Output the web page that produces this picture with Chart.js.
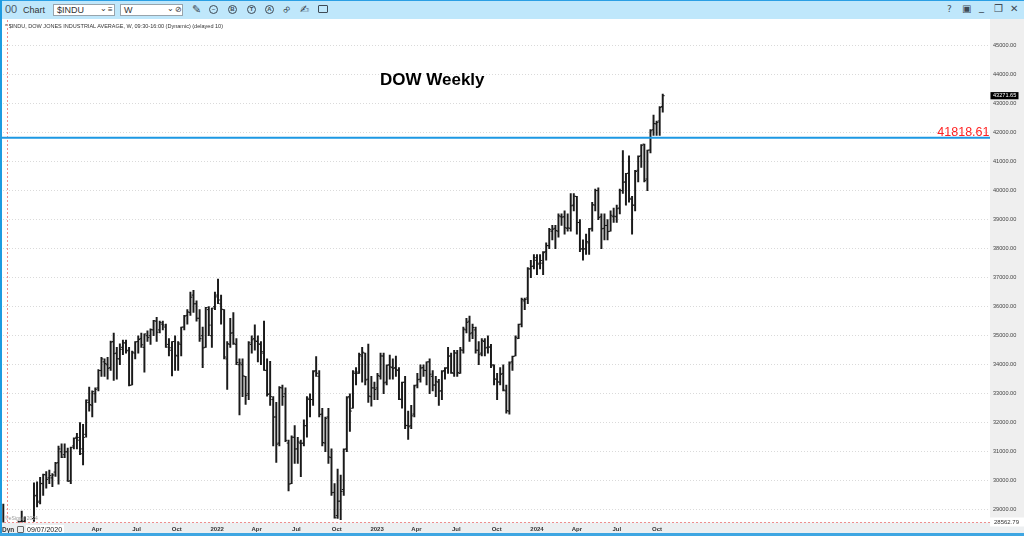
<!DOCTYPE html>
<html>
<head>
<meta charset="utf-8">
<script src="https://cdn.jsdelivr.net/npm/chart.js@4.4.1/dist/chart.umd.min.js"></script>
<style>
  body { margin: 0; width: 1024px; height: 536px; overflow: hidden; background: #fff;
         font-family: "Liberation Sans", Arial, sans-serif; position: relative; }
  #dowChart { position: absolute; left: 0; top: 0; }
  .abs { position: absolute; white-space: nowrap; }
  #hdr { left: 0; top: 0; width: 1024px; height: 19px; background: #bfe7fb; border-top: 1px solid #2a9fe4; box-sizing: border-box; }
  .box { top: 3px; height: 12px; background: #fff; border: 1px solid #98a4ac; box-sizing: border-box; font-size: 9px; color: #333; line-height: 10px; }
  .circ { top: 4px; width: 9px; height: 9px; border: 1px solid #3e4a56; border-radius: 50%; box-sizing: border-box;
          font-size: 6px; line-height: 7px; text-align: center; color: #3e4a56; font-weight: bold; }
  .glyph { top: 2px; font-size: 11px; color: #3e4a56; font-family: "DejaVu Sans", sans-serif; }
  #leftBorder { left: 0; top: 0; width: 2px; height: 536px; background: #1e9be0; }
  #bottomBorder { left: 0; top: 533px; width: 1024px; height: 3px; background: #3ea6e2; }
</style>
</head>
<body>
<canvas id="dowChart" width="1024" height="536"></canvas>

<div id="hdr" class="abs">
  <span class="abs" style="left:5px;top:2px;font-size:11px;color:#4b5b6a">00</span>
  <span class="abs" style="left:23px;top:4px;font-size:9px;color:#333">Chart</span>
  <div class="abs box" style="left:53px;width:62px"><span class="abs" style="left:3px;top:0">$INDU</span><span class="abs" style="left:46px;top:-1px;font-size:8px">&#8964;</span><span class="abs" style="left:54px;top:0;font-size:8px">&#8801;</span></div>
  <div class="abs box" style="left:120px;width:63px"><span class="abs" style="left:3px;top:0">W</span><span class="abs" style="left:46px;top:-1px;font-size:8px">&#8964;</span><span class="abs" style="left:54px;top:0;font-size:8px">&#8856;</span></div>
  <span class="abs glyph" style="left:192px">&#9998;</span>
  <div class="abs circ" style="left:209px">~</div>
  <div class="abs circ" style="left:228px">B</div>
  <div class="abs circ" style="left:247px">T</div>
  <div class="abs circ" style="left:265px">A</div>
  <span class="abs glyph" style="left:282px;transform:rotate(-45deg)">&#8734;</span>
  <span class="abs glyph" style="left:300px">&#9997;</span>
  <div class="abs" style="left:318px;top:4px;width:10px;height:8px;border:1px solid #3e4a56;border-radius:1px;box-sizing:border-box"></div>
  <span class="abs glyph" style="left:947px;top:3px;font-size:9px">?</span>
  <span class="abs glyph" style="left:962px;top:2px;font-size:10px">&#9635;</span>
  <span class="abs glyph" style="left:979px;top:0px;font-size:10px">_</span>
  <span class="abs glyph" style="left:994px;top:2px;font-size:10px">&#10064;</span>
  <span class="abs glyph" style="left:1010px;top:2px;font-size:10px">&#10005;</span>
</div>

<div id="sub" class="abs" style="left:5px;top:23px;font-size:6px;color:#333;transform-origin:left top">* $INDU, DOW JONES INDUSTRIAL AVERAGE, W, 09:30-16:00 (Dynamic) (delayed 10)</div>
<div id="title" class="abs" style="left:380px;top:71px;font-size:17px;line-height:17px;font-weight:bold;color:#000">DOW Weekly</div>
<div class="abs" style="left:5px;top:515px;font-size:5px;color:#999">&copy;eSignal 2024</div>
<div class="abs" style="left:2px;top:526px;font-size:6.5px;font-weight:bold;color:#333">Dyn</div>
<div class="abs" style="left:17px;top:526px;width:7px;height:7px;border:1px solid #666;border-radius:1px;box-sizing:border-box"></div>
<div class="abs" style="left:26px;top:525px;width:37px;height:9px;background:#fff;font-size:7px;line-height:9px;color:#222;padding-left:1px">09/07/2020</div>

<div id="leftBorder" class="abs"></div>
<div id="bottomBorder" class="abs"></div>

<script>
// weekly bars, first one is the week of 2020-08-31
const startWeek = "2020-08-31";

const opens = [
  28430,28100,27700,27600,27200,27700,28600,28600,28300,26600,28700,29500,29300,29900,30200,30100,30100,30300,
  30627,31000,30900,31000,30000,31200,31500,31400,31100,31600,32700,32600,33000,33200,33800,34100,34000,33900,34800,34400,34200,34600,34750,34500,33300,34400,34800,34900,34600,35000,35000,35200,35500,35200,35400,35300,34700,34500,34800,34300,34700,35300,35700,35800,36400,36100,35600,35000,34600,35900,35000,36000,
  36400,36100,35900,34200,34700,35100,34700,34000,34000,33600,33000,34700,34900,34800,34700,34400,33800,33000,32800,32200,31300,33200,33000,31300,29900,31500,31100,31300,31300,31900,32800,32800,33800,33600,32300,31300,32200,30800,29600,28800,29300,29700,31100,32900,32500,33700,33700,34300,34400,33500,32900,33200,
  33200,33600,34300,33400,34000,33900,33900,33800,32800,33400,31900,31900,32300,33300,33500,33900,33800,34100,33600,33300,33400,33100,33800,33900,34300,33700,34400,33700,34500,35200,35500,35100,35200,34500,34400,34800,34600,34600,34000,33500,33400,33700,33100,32400,34100,34300,34900,35400,36200,36300,37300,37400,
  37600,37500,37500,37900,38100,38600,38700,38600,39100,39100,38700,38700,39500,39800,38900,38000,38000,38200,38700,39500,40000,39100,38700,38800,38600,39100,39100,39400,40000,40300,40600,39700,39500,40700,41200,41600,40400,41400,42100,42300,42400,42900
];
const highs = [
  29199,28367,28195,27640,27917,28608,28958,28760,28300,28459,29933,29964,30116,30232,30320,30369,30250,30637,
  31193,31272,31272,31128,31160,31480,31637,32010,31950,32793,33227,33100,33200,33830,34256,34200,34256,34811,35091,34600,34720,34850,34850,34600,34470,34800,35000,35091,35061,35171,35238,35530,35631,35500,35500,35400,34900,34800,35000,34800,35300,35700,35900,36500,36565,36200,35900,35300,35980,36000,35950,36500,
  36952,36400,35900,34800,35600,35800,34900,34200,34200,33600,34800,35000,35372,35000,34800,35500,34200,34117,32900,32700,33250,33300,33200,31400,31550,31900,31500,31400,32100,32900,33000,33800,34281,33800,32500,32200,32500,31100,29900,30400,30200,31100,32900,33000,33800,33900,34400,34600,34400,34712,33600,33400,
  33700,34400,34400,34000,34335,34200,34300,33900,33400,33600,32400,32600,33300,33700,34000,34000,34100,34200,33800,33600,33500,33800,33900,34600,34400,34500,34500,34600,35300,35600,35679,35400,35300,34800,34900,34900,35000,34700,34000,33700,33900,34000,33300,34100,34300,35000,35400,36300,36300,37350,37600,37800,
  37800,37800,37900,38200,38700,38800,38800,39200,39200,39300,39200,39900,39900,39800,39000,38300,38500,38700,39600,40052,40100,39200,39200,39000,39300,39400,39500,40050,41376,40600,41200,39800,40700,41200,41585,41600,41400,42100,42600,42400,42900,43325
];
const lows = [
  27664,27371,27569,26537,27057,27600,28233,28162,26143,26500,28600,29100,29200,29500,29750,29900,29800,30150,
  29881,30800,30800,29981,29900,31100,31100,30900,30547,31500,32400,32200,32700,33100,33600,33600,33500,33800,33456,33500,34000,34350,34400,33271,33300,34200,34400,34600,33741,34800,34700,35000,34800,35100,35200,34600,34300,33613,33800,33800,34300,35200,35400,35700,35800,35500,34800,33900,34600,35000,34600,35900,
  36100,35400,34200,33150,34600,34700,34000,32272,32900,32632,32800,34400,34500,34100,34000,33800,32913,32600,31200,30636,31200,32600,31350,29653,29900,30600,30600,30143,31200,31500,32200,32600,33600,32200,31200,31000,30600,29500,28715,28700,28660,29500,31000,31700,32500,33300,33700,33400,33300,32700,32573,32800,
  32800,33500,33000,33300,33500,33500,33600,32800,32500,31800,31430,31800,32200,33200,33400,33600,33300,33000,33100,32900,32600,32800,33500,33700,33700,33600,33600,33700,34400,35100,34800,34900,34400,34000,34300,34300,34400,33900,33300,32800,33300,33100,32327,32300,33800,34300,34900,35300,35900,36100,37000,37300,
  37100,37300,37100,37600,38000,38300,38000,38400,38800,38500,38600,38600,39300,38500,37900,37600,37800,37800,38600,39300,39000,38000,38300,38300,38600,38900,38900,39200,39900,39500,39600,38499,39300,40300,40800,40300,40000,41300,41900,41900,41900,42700
];
const closes = [
  28133,27666,27657,27174,27683,28586,28606,28336,26502,28323,29480,29263,29910,30218,30046,30179,30200,30606,
  31098,30814,30997,29983,31148,31458,31494,30932,31496,32779,32628,33072,33153,33800,34200,34043,33875,34778,34382,34208,34529,34756,34479,33290,34433,34786,34870,34687,35061,34935,35209,35515,35120,35456,35369,34608,34584,34798,34326,34746,35295,35677,35820,36328,36100,35602,34899,34580,35971,35365,35950,36338,
  36231,35912,34265,34725,35089,34738,34079,34059,33615,32944,34755,34861,34818,34721,34451,33811,32977,32899,32197,31262,33213,32900,31393,29888,31501,31097,31338,31288,31899,32845,32803,33761,33706,32283,31318,32152,30822,29590,28726,29297,29634,31083,32862,32403,33748,33746,34347,34430,33476,32920,33203,33147,
  33631,34303,33375,33978,33926,33869,33827,32817,33391,31910,31862,32238,33274,33485,33886,33809,34098,33674,33300,33427,33093,33762,33877,34299,33727,34408,33734,34509,35228,35459,35066,35281,34501,34347,34838,34577,34618,33964,33508,33407,33670,33127,32418,34061,34283,34947,35390,36246,36248,37306,37385,37690,
  37466,37593,37864,38109,38654,38671,38627,39131,39087,38723,38715,39476,39807,38905,37983,37986,38240,38676,39513,40004,39070,38686,38799,38589,39150,39119,39376,40001,40288,40589,39737,39498,40660,41175,41563,40345,41393,42063,42313,42352,42864,43271.65
];

const xTickDates = ["2021-04-01","2021-07-01","2021-10-01","2022-01-01","2022-04-01","2022-07-01","2022-10-01",
  "2023-01-01","2023-04-01","2023-07-01","2023-10-01","2024-01-01","2024-04-01","2024-07-01","2024-10-01"];
const xTickLabels = ["Apr","Jul","Oct","2022","Apr","Jul","Oct","2023","Apr","Jul","Oct","2024","Apr","Jul","Oct"];
const yTickValues = [29000,30000,31000,32000,33000,34000,35000,36000,37000,38000,39000,40000,41000,42000,43000,44000,45000];

const levelPrice = 41818.61;
const viewLow = 28562.79;
const viewHigh = 45880;
const lastPrice = closes[closes.length - 1];

const WEEK_MS = 7 * 24 * 3600 * 1000;
const weekOf = (d) => (Date.parse(d) - Date.parse(startWeek)) / WEEK_MS;

Chart.defaults.font.family = '"Liberation Sans", Arial, sans-serif';

const chromePlugin = {
  id: "chrome",
  beforeDraw(chart) {
    const { ctx, chartArea: a } = chart;
    ctx.save();
    ctx.fillStyle = "#efefef";
    ctx.fillRect(a.right, 19, chart.width - a.right, a.bottom - 19);
    ctx.fillStyle = "#eceff1";
    ctx.fillRect(0, a.bottom, chart.width, chart.height - a.bottom);
    ctx.restore();
  },
  afterDatasetsDraw(chart) {
    const { ctx, chartArea: a } = chart;
    const y = chart.scales.y;
    const meta = chart.getDatasetMeta(0);

    // open / close ticks
    ctx.save();
    ctx.beginPath();
    ctx.rect(a.left, a.top, a.width, a.height);
    ctx.clip();
    ctx.fillStyle = "#1a1a1a";
    meta.data.forEach((bar, i) => {
      ctx.fillRect(bar.x - 1.9, y.getPixelForValue(opens[i]) - 0.5, 1.6, 1);
      ctx.fillRect(bar.x + 0.3, y.getPixelForValue(closes[i]) - 0.5, 1.6, 1);
    });
    ctx.restore();

    // red dashed session lines
    ctx.save();
    ctx.strokeStyle = "#ee8e8e";
    ctx.lineWidth = 1;
    ctx.setLineDash([2, 2]);
    ctx.beginPath();
    ctx.moveTo(a.left, a.bottom);
    ctx.lineTo(a.right, a.bottom);
    ctx.moveTo(a.left + 7.5, 20);
    ctx.lineTo(a.left + 7.5, a.bottom);
    ctx.stroke();
    ctx.restore();

    // horizontal level
    const ly = y.getPixelForValue(levelPrice);
    ctx.save();
    ctx.strokeStyle = "#1c98e3";
    ctx.lineWidth = 2;
    ctx.beginPath();
    ctx.moveTo(0, ly);
    ctx.lineTo(a.right, ly);
    ctx.stroke();
    ctx.fillStyle = "#ff2222";
    ctx.font = '12.5px "Liberation Sans", Arial, sans-serif';
    ctx.textAlign = "right";
    ctx.textBaseline = "alphabetic";
    ctx.fillText(levelPrice.toFixed(2), a.right - 0.5, ly - 1.6);
    ctx.restore();
  },
  afterDraw(chart) {
    const { ctx, chartArea: a } = chart;
    const y = chart.scales.y;
    ctx.save();
    // last price box
    const py = y.getPixelForValue(lastPrice);
    ctx.fillStyle = "#000";
    ctx.fillRect(a.right + 0.5, py - 3.6, 28, 7.2);
    ctx.fillStyle = "#fff";
    ctx.font = '5.6px "Liberation Sans", Arial, sans-serif';
    ctx.textBaseline = "middle";
    ctx.fillText(lastPrice.toFixed(2), a.right + 3, py + 0.2);
    // bottom of view
    ctx.fillStyle = "#fff";
    ctx.fillRect(a.right, a.bottom - 5, chart.width - a.right, 9);
    ctx.fillStyle = "#333";
    ctx.font = '6px "Liberation Sans", Arial, sans-serif';
    ctx.fillText(viewLow.toFixed(2), a.right + 4, a.bottom - 0.5);
    ctx.restore();
  }
};

new Chart(document.getElementById("dowChart"), {
  type: "bar",
  data: {
    datasets: [
      {
        label: "$INDU",
        data: lows.map((lo, i) => ({ x: i, y: [lo, highs[i]] })),
        backgroundColor: "#1a1a1a",
        borderWidth: 0,
        borderSkipped: false,
        barThickness: 1.3,
        grouped: false,
      },
    ],
  },
  options: {
    responsive: false,
    animation: false,
    events: [],
    layout: { padding: { left: 0, top: 20, right: 0, bottom: 2.5 }, autoPadding: false },
    plugins: {
      legend: { display: false },
      tooltip: { enabled: false },
    },
    scales: {
      x: {
        type: "linear",
        min: -1.08,
        max: 321.7,
        offset: false,
        grid: { display: false, drawTicks: false, tickLength: 0 },
        border: { display: false },
        afterBuildTicks: (s) => { s.ticks = xTickDates.map((d) => ({ value: weekOf(d) })); },
        afterFit: (s) => { s.height = 11; },
        ticks: {
          autoSkip: false,
          maxRotation: 0,
          padding: 3,
          color: "#333",
          font: { size: 6, weight: "bold" },
          callback: (v, i) => xTickLabels[i],
        },
      },
      y: {
        position: "right",
        min: viewLow,
        max: viewHigh,
        afterBuildTicks: (s) => { s.ticks = yTickValues.map((v) => ({ value: v })); },
        afterFit: (s) => { s.width = 34; },
        grid: { color: "#dadada", lineWidth: 1, drawTicks: false },
        border: { display: false, dash: [1, 2] },
        ticks: {
          padding: 3,
          color: "#444",
          font: { size: 5.6 },
          callback: (v) => Number(v).toFixed(2),
        },
      },
    },
  },
  plugins: [chromePlugin],
});

// squeeze the subtitle to the width it has in the platform header
const sub = document.getElementById("sub");
sub.style.transform = "scaleX(" + (218 / sub.getBoundingClientRect().width) + ")";
</script>
</body>
</html>
